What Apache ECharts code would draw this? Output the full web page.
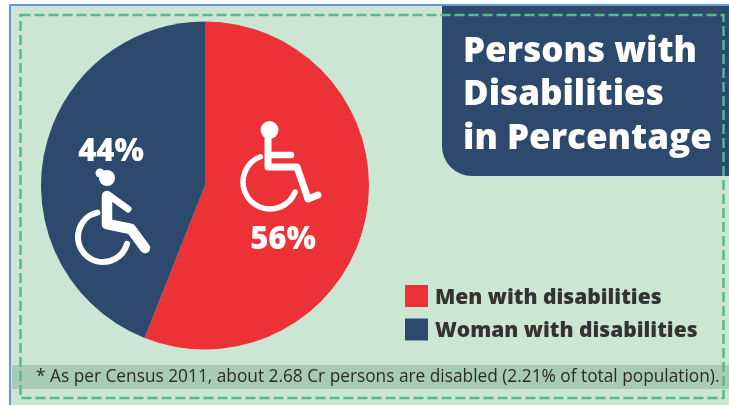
<!DOCTYPE html>
<html><head><meta charset="utf-8">
<style>html,body{margin:0;padding:0;background:#fff}#c{width:729px;height:405px}</style>
<script src="https://cdn.jsdelivr.net/npm/echarts@6/dist/echarts.min.js"></script>
</head><body><div id="c"></div>
<script>
const categories = ['Men with disabilities', 'Woman with disabilities'];
const values = [56, 44];
const colors = ['#ec3237', '#2d4a6e'];
const titleLines = ['Persons with', 'Disabilities', 'in Percentage'];
const footnote = '* As per Census 2011, about 2.68 Cr persons are disabled (2.21% of total population).';

const W = '#ffffff', NAVY = '#2d4a6e', FONT = '"Open Sans"';
const stroke = (w) => ({ fill: null, stroke: W, lineWidth: w, lineCap: 'round', lineJoin: 'round' });
const line = (points, w) => ({ type: 'polyline', z: 10, silent: true, shape: { points }, style: stroke(w) });
const deg = (a) => a * Math.PI / 180;
const arc = (cx, cy, r, a0, a1, w) => ({ type: 'arc', z: 10, silent: true,
  shape: { cx, cy, r, startAngle: deg(a0), endAngle: deg(a1), clockwise: true }, style: stroke(w) });

const chart = echarts.init(document.getElementById('c'), null, { renderer: 'canvas' });
chart.setOption({
  animation: false,
  backgroundColor: '#fff',
  title: [
    { text: titleLines.join('\n'), left: 458, top: 25, z: 12,
      textStyle: { color: W, fontFamily: FONT, fontWeight: 800, fontSize: 35, lineHeight: 43.5 } },
    { text: footnote, left: 31, top: 362, z: 12,
      textStyle: { color: '#2b2b2b', fontFamily: FONT, fontWeight: 400, fontSize: 17.3, lineHeight: 20 } }
  ],
  legend: {
    orient: 'vertical', left: 400, top: 280, itemWidth: 23, itemHeight: 22, itemGap: 10,
    icon: 'rect', selectedMode: false, data: categories, z: 12,
    formatter: '{a|{name}}',
    textStyle: { rich: { a: { color: '#333', fontFamily: FONT, fontWeight: 800, fontSize: 21, padding: [4, 0, 0, 2] } } }
  },
  series: [{
    type: 'pie', center: [205, 185.5], radius: [0, 164], startAngle: 90, clockwise: true, z: 2,
    silent: true, itemStyle: { borderWidth: 0 },
    label: { position: 'inside', formatter: '{d}%', color: W, fontFamily: FONT, fontWeight: 800, fontSize: 31 },
    labelLine: { show: false },
    labelLayout: (params) => params.dataIndex === 0 ? { x: 283, y: 240, align: 'center', verticalAlign: 'middle' } : { x: 111, y: 152, align: 'center', verticalAlign: 'middle' },
    data: categories.map((name, i) => ({ name, value: values[i], itemStyle: { color: colors[i] } }))
  }],
  graphic: { elements: [
    { type: 'rect', z: 0, silent: true, shape: { x: 10, y: 5, width: 730, height: 410 },
      style: { fill: '#cbe6d3', stroke: '#6a97d6', lineWidth: 2 } },
    { type: 'rect', z: 1, silent: true, shape: { x: 442, y: 6, width: 290, height: 170, r: [0, 0, 0, 30] },
      style: { fill: NAVY } },
    { type: 'rect', z: 1, silent: true, shape: { x: 12, y: 365, width: 717, height: 24 },
      style: { fill: '#aacbb3' } },
    { type: 'rect', z: 5, silent: true, shape: { x: 20.5, y: 15, width: 703, height: 383 },
      style: { fill: null, stroke: '#58b98c', lineWidth: 2.5, lineDash: [10, 4] } },
    // man icon
    { type: 'circle', z: 10, silent: true, shape: { cx: 269.5, cy: 130, r: 9 }, style: { fill: W } },
    line([[268, 132], [268, 167], [297, 167], [308, 199], [318, 195]], 7),
    line([[270, 155], [291, 155]], 6.5),
    arc(270, 182, 27, 22, 249, 5.5),
    // woman icon
    { type: 'circle', z: 10, silent: true, shape: { cx: 107, cy: 178, r: 8 }, style: { fill: W } },
    { type: 'circle', z: 10, silent: true, shape: { cx: 100, cy: 173, r: 4.5 }, style: { fill: W } },
    line([[107, 196], [107, 224], [131, 229], [145, 248]], 10.5),
    line([[110, 196], [128, 209]], 7),
    arc(103, 237, 25, 16, 257, 6)
  ] }
});
</script></body></html>
